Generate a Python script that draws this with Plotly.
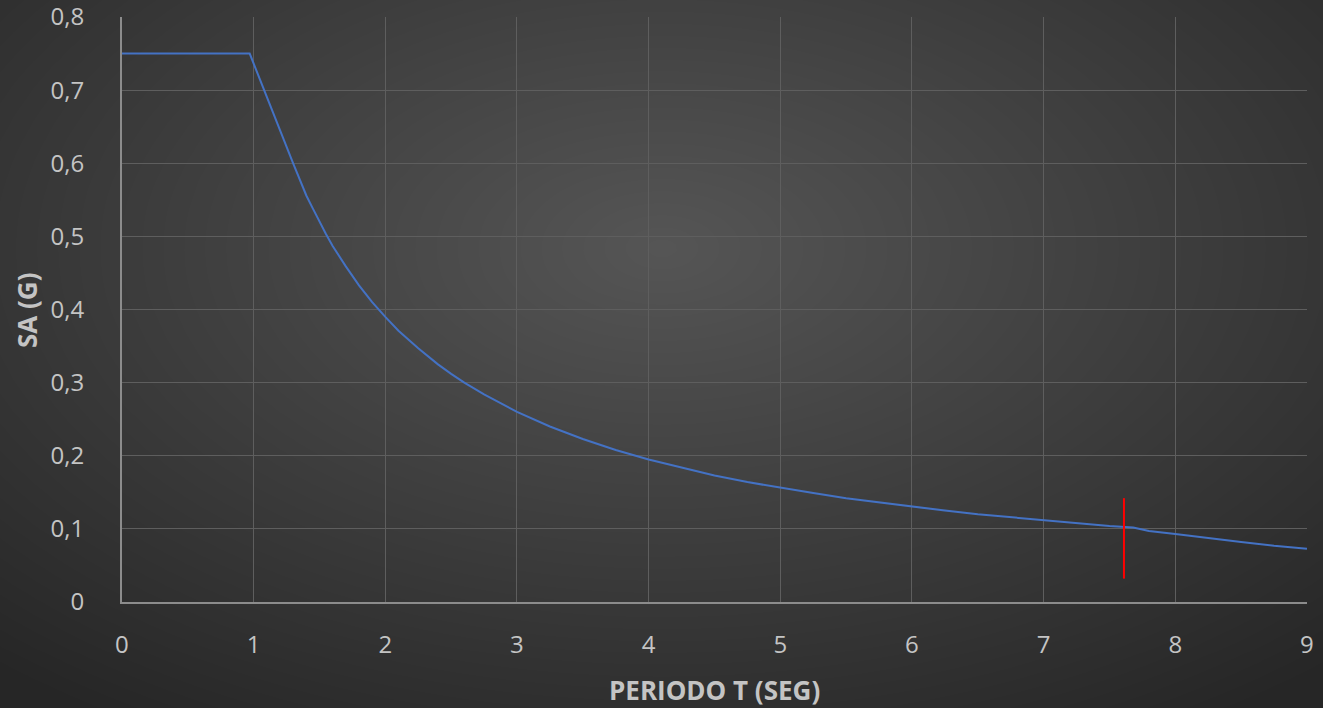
import numpy as np
import plotly.graph_objects as go

# Espectro de diseno
periodo = [0, 0.25, 0.5, 0.75, 0.97, 1.3, 1.35, 1.4, 1.45, 1.5, 1.55, 1.6, 1.7, 1.8, 1.9,
           2.0, 2.1, 2.25, 2.4, 2.5, 2.6, 2.75, 2.8, 3.0, 3.25, 3.5, 3.75, 4.0, 4.25, 4.5,
           4.75, 5.0, 5.25, 5.5, 5.75, 6.0, 6.25, 6.5, 6.75, 7.0, 7.25, 7.5, 7.68, 7.8,
           8.0, 8.25, 8.5, 8.75, 9.0]
sa = [0.75, 0.75, 0.75, 0.75, 0.75, 0.60, 0.578, 0.556, 0.538, 0.52, 0.503, 0.487, 0.459, 0.433, 0.41,
      0.39, 0.371, 0.347, 0.325, 0.312, 0.30, 0.284, 0.279, 0.26, 0.24, 0.223, 0.208, 0.195, 0.184, 0.173,
      0.164, 0.156, 0.149, 0.142, 0.136, 0.13, 0.125, 0.12, 0.116, 0.111, 0.108, 0.104, 0.102, 0.097,
      0.093, 0.087, 0.082, 0.077, 0.073]

# marca roja (periodo de la estructura)
marca_t = [7.61, 7.61]
marca_sa = [0.032, 0.142]

x_ticks = [0, 1, 2, 3, 4, 5, 6, 7, 8, 9]
y_ticks = [0, 0.1, 0.2, 0.3, 0.4, 0.5, 0.6, 0.7, 0.8]

txt = "#c4c4c4"
grid = "#5e5e5e"

# fondo degradado radial (estilo Excel)
gx = np.linspace(0, 1, 200)
gy = np.linspace(0, 1, 120)
X, Y = np.meshgrid(gx, gy)
r = np.sqrt(((X - 0.5) / 0.75) ** 2 + ((Y - 0.65) / 0.8) ** 2)
bg = np.clip(1 - r, 0, 1)

fig = go.Figure()
fig.add_trace(go.Heatmap(x=gx, y=gy, z=bg, xaxis="x", yaxis="y",
                         colorscale=[[0, "#262626"], [1, "#555555"]],
                         showscale=False, hoverinfo="skip", zsmooth="best"))

fig.add_trace(go.Scatter(x=periodo, y=sa, mode="lines", xaxis="x2", yaxis="y2",
                         line=dict(color="#4472C4", width=2), showlegend=False))
fig.add_trace(go.Scatter(x=marca_t, y=marca_sa, mode="lines", xaxis="x2", yaxis="y2",
                         line=dict(color="#ff0000", width=2), showlegend=False))

fig.update_layout(
    margin=dict(l=0, r=0, t=0, b=0, autoexpand=False),
    separators=", ",
    paper_bgcolor="#2b2b2b",
    plot_bgcolor="rgba(0,0,0,0)",
    font=dict(family="Open Sans", color=txt, size=24),
    xaxis=dict(domain=[0, 1], range=[0, 1], visible=False, fixedrange=True, automargin=False),
    yaxis=dict(domain=[0, 1], range=[0, 1], visible=False, fixedrange=True, automargin=False),
    xaxis2=dict(domain=[0.0922, 0.9879], range=[0, 9.0001], tickvals=x_ticks,
                showgrid=True, gridcolor=grid, gridwidth=1, zeroline=False,
                showline=True, linecolor="#8c8c8c", linewidth=2,
                ticks="", ticklabelstandoff=20, anchor="y2", automargin=False,
                ticklabeloverflow="allow",
                tickfont=dict(size=24, color=txt)),
    yaxis2=dict(domain=[0.1497, 0.976], range=[0, 0.8001], tickvals=y_ticks,
                showgrid=True, gridcolor=grid, gridwidth=1, zeroline=False,
                showline=True, linecolor="#8c8c8c", linewidth=2,
                ticks="", ticklabelstandoff=31, anchor="x2", automargin=False,
                ticklabeloverflow="allow",
                tickfont=dict(size=24, color=txt)),
    annotations=[
        dict(text="<b>PERIODO T (SEG)</b>", xref="paper", yref="paper",
             x=714 / 1323, y=1 - 690 / 708, xanchor="center", yanchor="middle",
             showarrow=False, font=dict(size=26, color=txt)),
        dict(text="<b>SA (G)</b>", xref="paper", yref="paper",
             x=27 / 1323, y=1 - 310 / 708, xanchor="center", yanchor="middle",
             showarrow=False, textangle=-90, font=dict(size=26, color=txt)),
    ],
)

# div fijo en la esquina para ocupar exactamente la ventana
fig.write_html(
    "out.html",
    config={"displayModeBar": False},
    default_width="1323px; position:fixed; top:0; left:0",
    default_height="708px",
)
